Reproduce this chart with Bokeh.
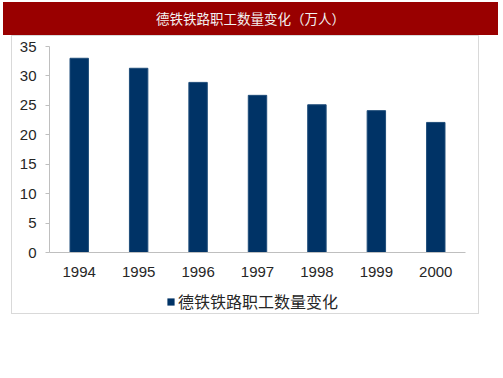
from bokeh.plotting import figure
from bokeh.models import Div, Legend, LegendItem, FixedTicker, Range1d, FactorRange
from bokeh.layouts import column
from bokeh.embed import file_html
from bokeh.resources import INLINE

title_text = "德铁铁路职工数量变化（万人）"
series_name = "德铁铁路职工数量变化"
years = ["1994", "1995", "1996", "1997", "1998", "1999", "2000"]
staff = [33.0, 31.3, 28.9, 26.7, 25.1, 24.1, 22.1]
y_ticks = [0, 5, 10, 15, 20, 25, 30, 35]

bar_color = "#003366"

banner = Div(text=title_text, width=495, height=33, margin=(2, 5, 0, 3),
             styles={"background-color": "#990000", "color": "#f2f2f2",
                     "text-align": "center", "line-height": "33px",
                     "font-size": "13.5px", "font-family": "Noto Sans CJK SC"})

p = figure(width=466, height=250, x_range=FactorRange(*years, range_padding=0),
           y_range=Range1d(0, 35), output_backend="svg", toolbar_location=None,
           min_border_left=37, min_border_right=13, min_border_top=10,
           min_border_bottom=34, margin=0)
p.outline_line_color = None
p.xgrid.grid_line_color = None
p.ygrid.grid_line_color = None

r = p.vbar(x=years, top=staff, width=0.31, fill_color=bar_color,
           line_color="#1f4d7a", line_width=1)

p.yaxis.ticker = FixedTicker(ticks=y_ticks)
for ax in (p.xaxis[0], p.yaxis[0]):
    ax.axis_line_color = "#bfbfbf"
    ax.major_tick_line_color = "#bfbfbf"
    ax.minor_tick_line_color = None
    ax.major_label_text_font = "Liberation Sans"
    ax.major_label_text_font_size = "15px"
    ax.major_label_text_color = "#262626"
p.yaxis.major_tick_out = 4
p.yaxis.major_tick_in = 0
p.yaxis.major_label_standoff = 9
p.xaxis.major_tick_out = 0
p.xaxis.major_tick_in = 0
p.xaxis.major_label_standoff = 14

# legend strip (library legend in its own small figure; zero-height proxy bar)
lp = figure(width=466, height=27, x_range=FactorRange(*years, range_padding=0),
            y_range=Range1d(0, 1), output_backend="svg", toolbar_location=None,
            x_axis_location=None, y_axis_location=None,
            min_border=0, margin=0)
lp.outline_line_color = None
lp.xgrid.grid_line_color = None
lp.ygrid.grid_line_color = None
lr = lp.vbar(x=years[:1], top=[0], width=0.3, fill_color=bar_color,
             line_color=bar_color, line_alpha=0)

legend = Legend(items=[LegendItem(label=series_name, renderers=[lr])],
                orientation="horizontal", location=(117, 0),
                glyph_width=9, glyph_height=9, label_standoff=3, label_height=18,
                label_text_font="Noto Sans CJK SC", label_text_font_size="16px",
                label_text_color="#262626", border_line_color=None,
                background_fill_alpha=0, padding=0, margin=0)
lp.add_layout(legend)

panel = column(p, lp, margin=(0, 0, 0, 11), spacing=0,
               styles={"border": "1px solid #d9d9d9"})

layout = column(banner, panel, spacing=0)
open("out.html", "w").write(file_html(layout, INLINE))
